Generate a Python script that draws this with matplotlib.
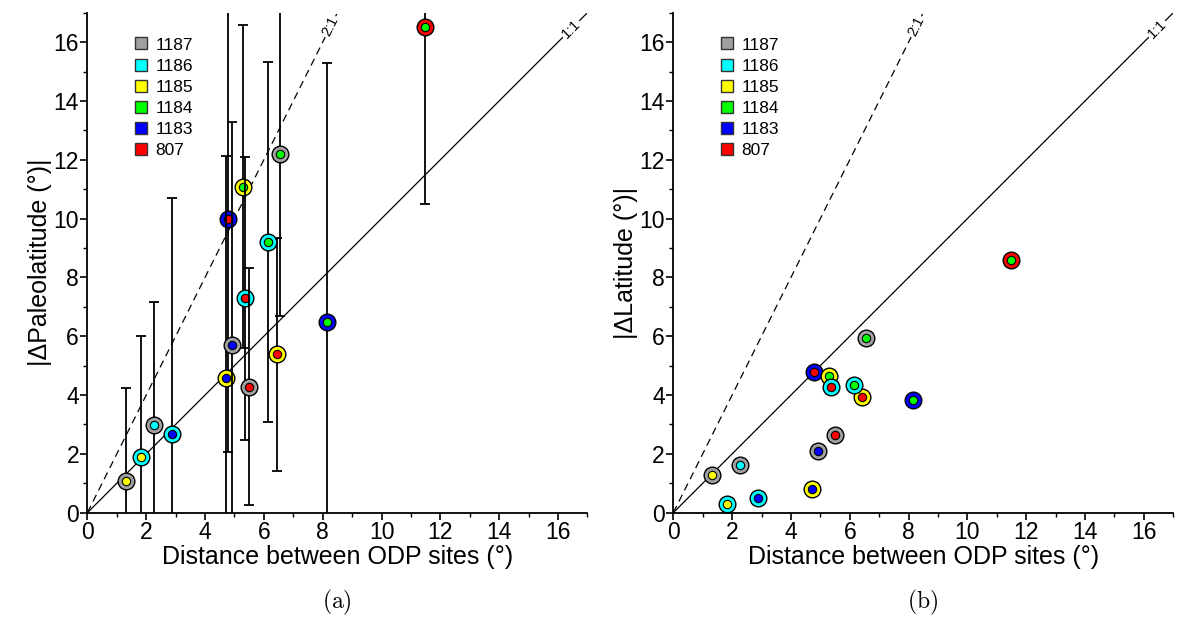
import matplotlib
matplotlib.use("Agg")
import matplotlib.pyplot as plt
from matplotlib.lines import Line2D
from matplotlib.ticker import MultipleLocator

plt.rcParams["font.family"] = ["Liberation Sans", "DejaVu Sans"]
plt.rcParams["mathtext.fontset"] = "cm"

# sites and their colours (legend order)
sites = ["1187", "1186", "1185", "1184", "1183", "807"]
site_colors = {"1187": "#a0a0a0", "1186": "#00ffff", "1185": "#ffff00",
               "1184": "#00ff00", "1183": "#0000ff", "807": "#ff0000"}

# site pairs: outer ring site, inner dot site
outer_site = ["807", "1183", "1183", "1185", "1185", "1185", "1186", "1186",
              "1186", "1186", "1187", "1187", "1187", "1187", "1187"]
inner_site = ["1184", "807", "1184", "1183", "1184", "807", "1185", "1183",
              "807", "1184", "1185", "1186", "1183", "807", "1184"]
distance = [11.48, 4.79, 8.15, 4.71, 5.30, 6.43, 1.83, 2.87,
            5.35, 6.15, 1.31, 2.28, 4.91, 5.51, 6.56]
d_paleolat = [16.50, 9.99, 6.49, 4.58, 11.09, 5.39, 1.88, 2.69,
              7.29, 9.20, 1.08, 2.99, 5.69, 4.29, 12.21]
d_paleolat_err = [6.0, 7.94, 8.80, 7.55, 5.48, 3.96, 4.13, 8.01,
                  4.82, 6.11, 3.17, 4.18, 7.58, 4.03, 5.52]
d_lat = [8.60, 4.77, 3.84, 0.80, 4.65, 3.95, 0.31, 0.49,
         4.26, 4.34, 1.28, 1.61, 2.10, 2.63, 5.94]


def style_axes(ax, ylabel):
    ax.set_xlim(0, 17)
    ax.set_ylim(0, 17)
    for side in ("top", "right"):
        ax.spines[side].set_visible(False)
    for side in ("left", "bottom"):
        ax.spines[side].set_linewidth(1.3)
    ax.xaxis.set_major_locator(MultipleLocator(2))
    ax.xaxis.set_minor_locator(MultipleLocator(1))
    ax.yaxis.set_major_locator(MultipleLocator(2))
    ax.yaxis.set_minor_locator(MultipleLocator(1))
    ax.tick_params(which="major", direction="out", length=5, width=1.2,
                   labelsize=16.5, pad=1)
    ax.tick_params(which="minor", direction="out", length=3, width=1.0)
    ax.set_xlabel("Distance between ODP sites (°)", fontsize=18, labelpad=1)
    ax.set_ylabel(ylabel, fontsize=18, labelpad=1)

    # reference lines
    ax.plot([0, 17], [0, 17], color="black", lw=0.9, zorder=1)
    ax.plot([0, 8.5], [0, 17], color="black", lw=0.9, ls=(0, (6, 4)), zorder=1)
    box = dict(fc="white", ec="none", pad=1.0)
    ax.text(16.44, 16.45, "1:1", rotation=45, ha="center", va="center",
            rotation_mode="anchor", fontsize=10.5, bbox=box, zorder=1.5)
    ax.text(8.25, 16.53, "2:1", rotation=63.4, ha="center", va="center",
            rotation_mode="anchor", fontsize=10.5, bbox=box, zorder=1.5)

    handles = [Line2D([], [], ls="none", marker="s", markersize=9,
                      mfc=site_colors[s], mec="#333333", mew=1.0)
               for s in sites]
    ax.legend(handles, sites, loc="upper left", bbox_to_anchor=(0.075, 0.968),
              frameon=False, borderpad=0, handlelength=0.9, handletextpad=0.35,
              labelspacing=0.34, fontsize=12.5)


def draw_points(ax, y, yerr=None):
    for i in range(len(distance)):
        z = 3 + i
        if yerr is not None:
            ax.errorbar(distance[i], y[i], yerr=yerr[i], fmt="none",
                        ecolor="black", elinewidth=1.3, capsize=3.5,
                        capthick=1.3, zorder=z)
        ax.plot(distance[i], y[i], "o", ms=12, mfc=site_colors[outer_site[i]],
                mec="black", mew=1.0, zorder=z + 0.1)
        ax.plot(distance[i], y[i], "o", ms=6, mfc=site_colors[inner_site[i]],
                mec="black", mew=0.8, zorder=z + 0.2)


fig = plt.figure(figsize=(11.81, 6.31), dpi=100)
ax_a = fig.add_axes([87.4 / 1181, 118.3 / 631, 500 / 1181, 500 / 631])
ax_b = fig.add_axes([673.3 / 1181, 118.3 / 631, 500 / 1181, 500 / 631])

style_axes(ax_a, "|ΔPaleolatitude (°)|")
draw_points(ax_a, d_paleolat, d_paleolat_err)

style_axes(ax_b, "|ΔLatitude (°)|")
draw_points(ax_b, d_lat)

fig.text(337 / 1181, 1 - 602 / 631, r"$\mathrm{(a)}$", ha="center",
         va="center", fontsize=17)
fig.text(923 / 1181, 1 - 602 / 631, r"$\mathrm{(b)}$", ha="center",
         va="center", fontsize=17)

fig.savefig("out.png", dpi=100)
